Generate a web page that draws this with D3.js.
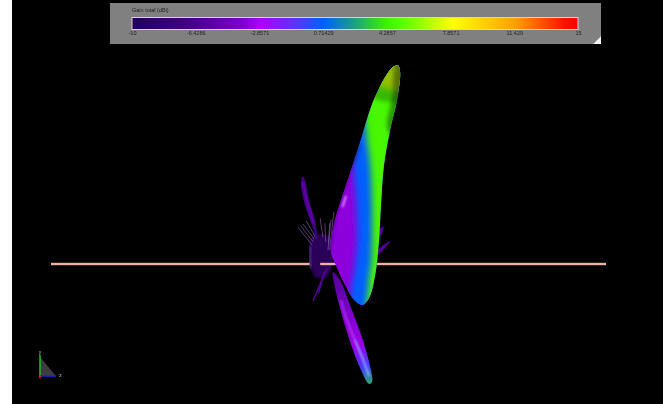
<!DOCTYPE html>
<html>
<head>
<meta charset="utf-8">
<script src="https://cdn.jsdelivr.net/npm/d3@7"></script>
<style>
  html, body { margin: 0; padding: 0; background: #fff; overflow: hidden; }
  svg { display: block; }
  text { font-family: "Liberation Sans", Arial, sans-serif; }
</style>
</head>
<body>
<div id="chart"></div>
<script>
width = 663;
height = 404;

// colour bar
var barTitle = 'Gain total (dBi)';
var barTicks = [-10, -6.4286, -2.8571, 0.71429, 4.2857, 7.8571, 11.429, 15];
var stopGains = [-10, -6.5, -3.75, -2.75, -1, 0.75, 2.5, 4.25, 5, 8, 11.5, 14.25, 15];
var stopColors = ['#1b0060', '#48008a', '#8000d0', '#b000ff', '#6030ff', '#0060ff', '#20a080',
                  '#40f000', '#50ff00', '#ffff00', '#ffa000', '#ff1000', '#ff0000'];

// pattern outline, [z, y] in plot units, origin on the wire
var mainLobe = [[25, 71.7], [25.8, 69.2], [24.7, 59.1], [22.2, 48.3], [20, 35.7], [18.9, 21.3],
                [18.2, 8.6], [16.8, -4], [14.6, -12.3], [12.1, -14.8], [9.2, -13], [5.9, -7.6],
                [2.7, -0.7], [0.7, 5], [2, 15.1], [5, 24.9], [8, 33.9], [11.6, 44.7],
                [15.6, 57.3], [20.2, 67], [23.2, 71]];
// colour bands inside the main lobe
var blueBand = [[9, 37.8], [10, 23.4], [10.4, 8.6], [9.4, -2.2], [8, -10], [9, -25],
                [40, -25], [45, 90], [20, 90], [15, 62], [10.5, 46]];
var greenBand = [[13, 54], [14, 44], [15, 35.7], [15.6, 23.1], [15.4, 1.4], [14.4, -7.6],
                 [15, -25], [40, -25], [45, 90], [12, 90]];
var yellowBand = [[15, 66], [22, 63], [40, 58], [40, 90], [15, 90]];
var darkEdge = [[32, 80], [24.8, 74], [23, 60], [21.5, 48], [30, 42], [36, 60]];
var topShade = [[12, 80], [40, 80], [40, 60], [12, 62]];
var leftShade = [[-2, -4], [0.7, 5], [2, 15], [5, 25], [8, 34], [11, 43], [6, 43], [-4, 10]];
var mainHighlight = [[6.3, 24.5], [5, 20.5]];

var lowerLobe = [[1.6, -2.9], [3.4, -13], [7, -25.6], [11.4, -37.5], [14.6, -43.2], [15.7, -42.5],
                 [15.3, -38.2], [12.1, -26.7], [7.7, -14.8], [4.1, -5.8]];
var lowerStreakTop = [[4.5, -13], [6, -18.4], [9.5, -27.4]];
var lowerStreakEnd = [[9.5, -27.4], [12.8, -35.3], [14.6, -40.4]];

var upperLobe = [[-9.5, 31.4], [-8.8, 31], [-7.1, 23], [-4.5, 14], [-4.2, 8.6], [-5.9, 14], [-8.4, 21], [-9.9, 28.5]];
var upperStreak = [[-9.2, 29.5], [-7.8, 23], [-5.4, 14.5]];

// dark body behind the wire and the thin lobes round it
var bodyLobe = [[-6.6, 3], [-6.4, 9], [-3, 11], [0.6, 9], [1.5, 0], [-1, -5], [-5, -4.5]];
var bodyEdge = [[-6.5, 6.5], [-6.6, 1.5], [-6.2, -1.5]];
var spokes = [[[-11, 13.3], [-5.9, 6.8]], [[-10, 13.7], [-5.5, 8]], [[-9.2, 14.4], [-5.2, 9]],
              [[-8, 15.5], [-4.6, 9.5]], [[-3, 16.5], [-2, 9.7]], [[-1.3, 14.7], [-1, 8]],
              [[0.4, 14.7], [0, 7.5]], [[1.9, 18.7], [0.4, 5]], [[0.9, 16], [-0.2, 5]]];
var lowerSpokes = [[[-0.5, -1.4], [-5.6, -13.3]], [[-1.5, -3], [-3.6, -10.5]]];
var sideLobes = [[[22, 8], [18, 5], [17.8, 3.5]], [[19.7, 13.3], [18, 8.8], [18.1, 12]]];

// wire, drawn in the parts that are not hidden
var wireParts = [[-100, -6.8], [-3, 2.7], [17.4, 100]];

// axes triad
var triadPlane = [[0, 20], [18, 0], [0, 0]];
var triadY = [[0, 0], [0, 22]];
var triadZ = [[0, 0], [18, 0]];

// scales
var zScale = d3.scaleLinear().domain([-100, 100]).range([51, 606]);
var yScale = d3.scaleLinear().domain([-50.45, 95.14]).range([404, 0]);
var barScale = d3.scaleLinear().domain([-10, 15]).range([132, 578]);
var gainColor = d3.scaleLinear().domain(stopGains).range(stopColors);
var triadX = d3.scaleLinear().domain([0, 18]).range([40, 56]);
var triadV = d3.scaleLinear().domain([0, 22]).range([376, 355]);

var outline = d3.line()
    .x(function(d) { return zScale(d[0]); })
    .y(function(d) { return yScale(d[1]); })
    .curve(d3.curveCatmullRomClosed.alpha(0.5));
var open = d3.line()
    .x(function(d) { return zScale(d[0]); })
    .y(function(d) { return yScale(d[1]); })
    .curve(d3.curveCatmullRom.alpha(0.5));
var triadLine = d3.line()
    .x(function(d) { return triadX(d[0]); })
    .y(function(d) { return triadV(d[1]); });

var svg = d3.select('#chart').append('svg')
    .attr('width', width)
    .attr('height', height);
var defs = svg.append('defs');

function addBlur(id, sd) {
  defs.append('filter')
      .attr('id', id)
      .attr('x', '-50%').attr('y', '-50%')
      .attr('width', '200%').attr('height', '200%')
    .append('feGaussianBlur')
      .attr('stdDeviation', sd);
}
addBlur('blur03', 0.45);
addBlur('blur1', 1);
addBlur('blur2', 2.2);
addBlur('blur4', 3);

defs.append('clipPath').attr('id', 'mainClip')
  .append('path').attr('d', outline(mainLobe));

var barGrad = defs.append('linearGradient').attr('id', 'barGrad');
barGrad.selectAll('stop')
    .data(stopGains)
    .enter().append('stop')
    .attr('offset', function(d) { return (d + 10) / 25; })
    .attr('stop-color', function(d) { return gainColor(d); });

var lowGrad = defs.append('linearGradient').attr('id', 'lowGrad')
    .attr('gradientUnits', 'userSpaceOnUse')
    .attr('x1', zScale(1.6)).attr('y1', yScale(-2.9))
    .attr('x2', zScale(15.3)).attr('y2', yScale(-43.2));
lowGrad.selectAll('stop')
    .data([[0, -6], [0.35, -4], [0.65, -3.2], [0.85, -0.5], [1, 2.8]])
    .enter().append('stop')
    .attr('offset', function(d) { return d[0]; })
    .attr('stop-color', function(d) { return gainColor(d[1]); });

// black scene next to the white margin
svg.append('rect').attr('width', width).attr('height', height).attr('fill', '#fff');
svg.append('rect').attr('x', 12).attr('width', width - 12).attr('height', height).attr('fill', '#000');

// colour bar panel
var panel = svg.append('g');
panel.append('path')
    .attr('d', 'M110,3H601V36L593,44H110Z')
    .attr('fill', '#808080');
panel.append('path')
    .attr('d', 'M601,36V44H593Z')
    .attr('fill', '#f4f4f4');
panel.append('rect')
    .attr('x', barScale(-10)).attr('y', 17.5)
    .attr('width', barScale(15) - barScale(-10)).attr('height', 12)
    .attr('fill', 'url(#barGrad)')
    .attr('stroke', '#e8c8d8').attr('stroke-width', 1);
panel.append('text')
    .attr('x', 132).attr('y', 12)
    .attr('font-size', 5.5)
    .attr('fill', '#222')
    .attr('filter', 'url(#blur03)')
    .text(barTitle);
var barAxis = panel.append('g')
    .attr('transform', 'translate(0,30)')
    .attr('filter', 'url(#blur03)')
    .call(d3.axisBottom(barScale).tickValues(barTicks).tickSize(0).tickPadding(1)
      .tickFormat(function(d) { return String(d); }));
barAxis.select('.domain').remove();
barAxis.selectAll('text')
    .attr('font-size', 5.5)
    .attr('font-family', '"Liberation Sans", Arial, sans-serif')
    .attr('fill', '#222');

// wire
var wire = svg.append('g');
wireParts.forEach(function(p) {
  wire.append('rect')
      .attr('x', zScale(p[0])).attr('y', yScale(0) - 1.2)
      .attr('width', zScale(p[1]) - zScale(p[0])).attr('height', 2.4)
      .attr('fill', '#eeb0a8');
});

// side lobes behind the main one
sideLobes.forEach(function(s) {
  svg.append('path')
      .attr('d', outline(s))
      .attr('fill', gainColor(-6))
      .attr('stroke', gainColor(-6))
      .attr('stroke-width', 1)
      .attr('filter', 'url(#blur03)');
});

// dark body
svg.append('path')
    .attr('d', outline(bodyLobe))
    .attr('fill', '#2c0058')
    .attr('filter', 'url(#blur1)');
svg.append('path')
    .attr('d', open(bodyEdge))
    .attr('fill', 'none')
    .attr('stroke', '#7048c0')
    .attr('stroke-width', 1.4)
    .attr('filter', 'url(#blur1)');

// the wire runs over the body
wire.raise();

// thin lobes
var spokeG = svg.append('g').attr('filter', 'url(#blur03)');
spokes.forEach(function(s) {
  spokeG.append('path')
      .attr('d', open(s))
      .attr('fill', 'none')
      .attr('stroke', '#9060b8')
      .attr('stroke-width', 1)
      .attr('opacity', 0.6);
});
lowerSpokes.forEach(function(s) {
  spokeG.append('path')
      .attr('d', open(s))
      .attr('fill', 'none')
      .attr('stroke', gainColor(-6))
      .attr('stroke-width', 1.5);
});

// upper left lobe
svg.append('path')
    .attr('d', outline(upperLobe))
    .attr('fill', gainColor(-7.5))
    .attr('filter', 'url(#blur03)');
svg.append('path')
    .attr('d', open(upperStreak))
    .attr('fill', 'none')
    .attr('stroke', gainColor(-3.5))
    .attr('stroke-width', 1.3)
    .attr('filter', 'url(#blur1)');

// lower lobe
svg.append('path')
    .attr('d', outline(lowerLobe))
    .attr('fill', 'url(#lowGrad)')
    .attr('filter', 'url(#blur03)');
svg.append('path')
    .attr('d', open(lowerStreakTop))
    .attr('fill', 'none')
    .attr('stroke', '#d060ff')
    .attr('stroke-width', 1.3)
    .attr('opacity', 0.8)
    .attr('filter', 'url(#blur1)');
svg.append('path')
    .attr('d', open(lowerStreakEnd))
    .attr('fill', 'none')
    .attr('stroke', '#b0e0ff')
    .attr('stroke-width', 1.2)
    .attr('filter', 'url(#blur1)');

// main lobe
var main = svg.append('g').attr('filter', 'url(#blur03)')
  .append('g').attr('clip-path', 'url(#mainClip)');
main.append('path').attr('d', outline(mainLobe)).attr('fill', gainColor(-3.5));
[[blueBand, 0.7], [greenBand, 4.6], [yellowBand, 7]].forEach(function(b) {
  main.append('path')
      .attr('d', outline(b[0]))
      .attr('fill', gainColor(b[1]))
      .attr('filter', 'url(#blur4)');
});
main.append('path')
    .attr('d', outline(topShade))
    .attr('fill', '#000')
    .attr('opacity', 0.25)
    .attr('filter', 'url(#blur2)');
main.append('path')
    .attr('d', outline(darkEdge))
    .attr('fill', '#000')
    .attr('opacity', 0.4)
    .attr('filter', 'url(#blur2)');
main.append('path')
    .attr('d', outline(leftShade))
    .attr('fill', '#000')
    .attr('opacity', 0.4)
    .attr('filter', 'url(#blur2)');
main.append('path')
    .attr('d', open(mainHighlight))
    .attr('fill', 'none')
    .attr('stroke', '#d880ff')
    .attr('stroke-width', 2.2)
    .attr('filter', 'url(#blur1)');

// triad
var triad = svg.append('g').attr('filter', 'url(#blur03)');
triad.append('path').attr('d', triadLine(triadPlane) + 'Z').attr('fill', '#3c3c3c');
triad.append('path').attr('d', triadLine(triadY)).attr('stroke', '#20c020').attr('stroke-width', 1.5);
triad.append('path').attr('d', triadLine(triadZ)).attr('stroke', '#2020f0').attr('stroke-width', 1.5);
triad.append('circle').attr('cx', triadX(0)).attr('cy', triadV(0) + 1).attr('r', 1.3).attr('fill', '#c02010');
triad.append('text')
    .attr('x', triadX(0)).attr('y', triadV(22) - 1)
    .attr('text-anchor', 'middle').attr('font-size', 5).attr('fill', '#b0c0b0')
    .text('y');
triad.append('text')
    .attr('x', triadX(18) + 3).attr('y', triadV(0) + 1)
    .attr('font-size', 5.5).attr('fill', '#b0b0d8')
    .text('z');
</script>
</body>
</html>
